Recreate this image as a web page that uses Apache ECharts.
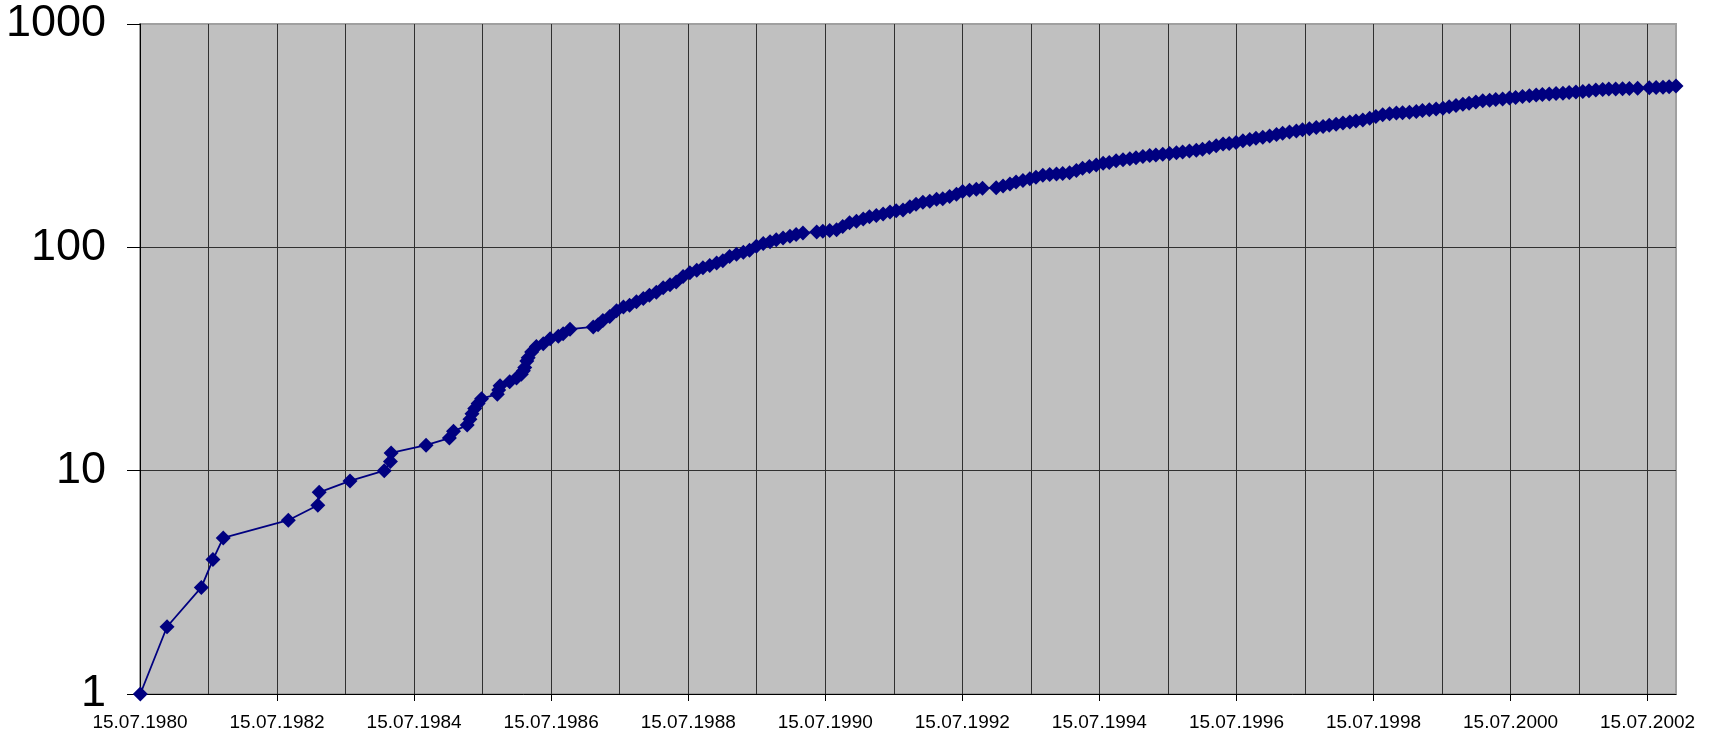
<!DOCTYPE html>
<html><head><meta charset="utf-8">
<script src="https://cdn.jsdelivr.net/npm/echarts@6/dist/echarts.min.js"></script>
<style>html,body{margin:0;padding:0;background:#fff}#c{width:1709px;height:737px}</style>
</head><body><div id="c"></div>
<script>
// 15.07.1980 as decimal year
const START_YEAR = 1980.5355;

// dates as decimal years
const dateYears = [
1980.54,1980.93,1981.43,1981.60,1981.75,1982.70,1983.13,1983.15,1983.60,1984.10,
1984.19,1984.20,1984.71,1985.05,1985.11,1985.31,1985.35,1985.38,1985.42,1985.47,
1985.52,1985.75,1985.77,1985.79,1985.93,1986.03,1986.10,1986.13,1986.15,1986.18,
1986.20,1986.25,1986.32,1986.42,1986.52,1986.64,1986.71,1986.81,1987.15,1987.22,
1987.29,1987.39,1987.49,1987.59,1987.68,1987.78,1987.88,1987.97,1988.07,1988.17,
1988.27,1988.36,1988.46,1988.56,1988.66,1988.75,1988.85,1988.95,1989.04,1989.14,
1989.24,1989.34,1989.43,1989.53,1989.63,1989.73,1989.82,1989.92,1990.02,1990.11,
1990.21,1990.41,1990.50,1990.60,1990.70,1990.79,1990.89,1990.99,1991.09,1991.18,
1991.28,1991.38,1991.48,1991.57,1991.67,1991.77,1991.86,1991.96,1992.06,1992.16,
1992.25,1992.35,1992.45,1992.54,1992.64,1992.74,1992.83,1993.03,1993.13,1993.23,
1993.32,1993.42,1993.52,1993.61,1993.71,1993.81,1993.91,1994.00,1994.10,1994.20,
1994.29,1994.39,1994.49,1994.59,1994.68,1994.78,1994.88,1994.98,1995.07,1995.17,
1995.27,1995.36,1995.46,1995.56,1995.66,1995.75,1995.85,1995.95,1996.04,1996.14,
1996.24,1996.34,1996.43,1996.53,1996.63,1996.73,1996.82,1996.92,1997.02,1997.12,
1997.21,1997.31,1997.41,1997.50,1997.60,1997.70,1997.80,1997.89,1997.99,1998.09,
1998.19,1998.28,1998.38,1998.48,1998.57,1998.67,1998.77,1998.87,1998.96,1999.06,
1999.16,1999.25,1999.35,1999.45,1999.55,1999.64,1999.74,1999.84,1999.93,2000.03,
2000.13,2000.23,2000.32,2000.42,2000.52,2000.61,2000.71,2000.81,2000.91,2001.00,
2001.10,2001.20,2001.30,2001.39,2001.49,2001.59,2001.68,2001.78,2001.88,2001.97,
2002.07,2002.17,2002.27,2002.39,2002.56,2002.66,2002.76,2002.85,2002.95
];

// cumulative values
const counts = [
1,2,3,4,5,6,7,8,9,10,
11,12,13,14,15,16,17,18,19,20,
21,22,23,24,25,26,27,28,29,31,
32,34,36,37,39,40,41,43,44,45,
47,49,52,54,55,57,59,61,63,66,
68,70,74,77,79,81,83,85,87,91,
93,95,97,101,104,106,108,110,112,114,
116,117,118,119,120,124,129,131,134,137,
139,141,144,146,147,152,156,159,161,164,
165,169,173,178,180,182,184,185,188,192,
196,199,203,206,210,212,213,214,216,221,
226,230,234,238,240,244,247,249,252,255,
258,259,261,263,265,267,270,272,275,280,
285,290,292,295,300,304,308,311,315,320,
324,328,332,336,340,344,348,352,356,360,
364,368,372,378,385,392,396,399,401,403,
406,410,413,416,420,426,432,437,442,448,
453,456,459,462,466,469,473,477,481,484,
486,488,490,493,496,499,503,506,509,511,
512,513,514,516,518,520,521,524,528
];

// x tick labels (15.07. of each labelled year)
const xTickYears = [1980,1982,1984,1986,1988,1990,1992,1994,1996,1998,2000,2002];
const yTicks = [1,10,100,1000];

const seriesData = dateYears.map((y, i) => [y - START_YEAR, counts[i]]);
const xMax = dateYears[dateYears.length - 1] - START_YEAR;
const tickOffsets = xTickYears.map(y => y - 1980);
const FONT = "'Liberation Sans', Arial, sans-serif";

const chart = echarts.init(document.getElementById('c'), null, {renderer: 'canvas'});
chart.setOption({
  animation: false,
  backgroundColor: '#ffffff',
  grid: {
    left: 140, top: 24, right: 33, bottom: 43,
    show: true, backgroundColor: '#c0c0c0',
    borderColor: '#a0a0a0', borderWidth: 2
  },
  xAxis: [{
    type: 'value', min: 0, max: xMax, interval: 2, position: 'bottom',
    axisLine: {show: true, onZero: false, lineStyle: {color: '#000', width: 1}},
    axisTick: {show: true, length: 7, lineStyle: {color: '#000'}, customValues: tickOffsets},
    axisLabel: {
      show: true, customValues: tickOffsets,
      fontSize: 19, fontFamily: FONT, color: '#000', margin: 19,
      formatter: v => {
        const k = Math.round(v);
        if (Math.abs(v - k) > 1e-6 || k % 2 !== 0) return '';
        return '15.07.' + (1980 + k);
      }
    },
    splitLine: {show: false}
  }, {
    type: 'value', min: 0, max: xMax, interval: 1, position: 'top',
    axisLine: {show: false}, axisTick: {show: false}, axisLabel: {show: false},
    splitLine: {show: true, showMinLine: false, showMaxLine: false, lineStyle: {color: '#303030', width: 1}}
  }],
  yAxis: {
    type: 'log', logBase: 10, min: yTicks[0], max: yTicks[yTicks.length - 1],
    axisLine: {show: true, lineStyle: {color: '#000', width: 1}},
    axisTick: {show: true, length: 13, lineStyle: {color: '#000'}},
    axisLabel: {fontSize: 45, fontFamily: FONT, color: '#000', margin: 34,
      formatter: v => String(Math.round(v))},
    splitLine: {show: true, showMinLine: false, showMaxLine: false, lineStyle: {color: '#303030', width: 1}}
  },
  series: [{
    type: 'line',
    xAxisIndex: 0,
    data: seriesData,
    symbol: 'diamond', symbolSize: 15, showAllSymbol: true,
    clip: false,
    itemStyle: {color: '#000080'},
    lineStyle: {color: '#000080', width: 1.8}
  }]
});
</script></body></html>
